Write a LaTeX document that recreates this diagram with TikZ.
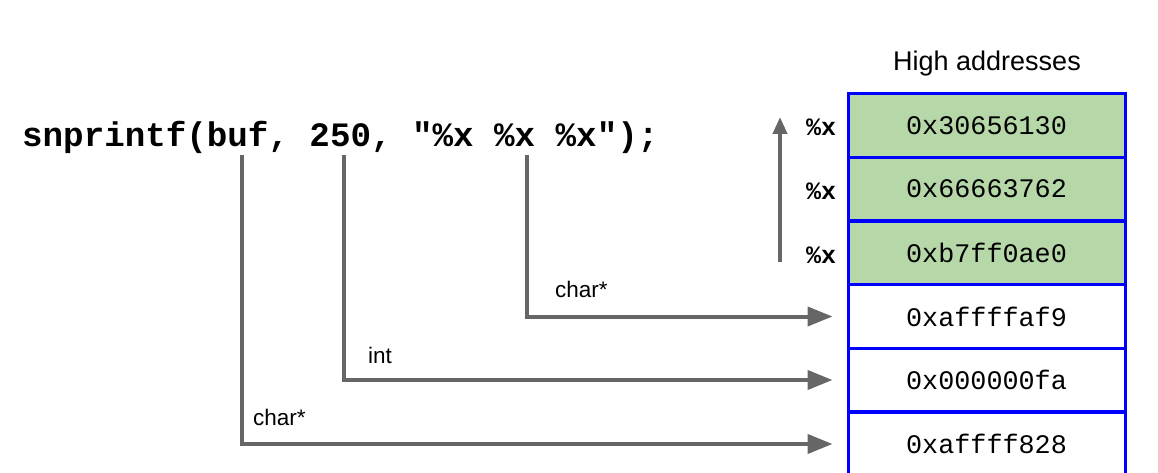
\documentclass[tikz,border=0pt]{standalone}
\usepackage{fontspec}
\setmainfont{Liberation Sans}
\newfontfamily\codefont{Liberation Mono}
\usetikzlibrary{arrows.meta}
\definecolor{cellgreen}{HTML}{B6D7A8}
\definecolor{conngray}{HTML}{666666}
\definecolor{cellblue}{HTML}{0000FF}
\begin{document}
\begin{tikzpicture}[x=1pt,y=-1pt,
  cell/.style={draw=cellblue, line width=3pt, minimum width=277pt, minimum height=63.5pt,
    inner sep=0pt, font=\codefont\fontsize{26.8}{27}\selectfont},
  gcell/.style={cell, fill=cellgreen},
  conn/.style={draw=conngray, line width=4pt, -{Triangle[length=25pt,width=19pt]}, shorten >=14pt},
  upconn/.style={draw=conngray, line width=4pt, -{Triangle[length=17pt,width=14pt]}},
  fmt/.style={font=\codefont\bfseries\fontsize{25}{25}\selectfont, inner sep=0pt},
  typelbl/.style={font=\fontsize{22.5}{23}\selectfont, anchor=base west, inner sep=0pt}]
\useasboundingbox (0,0) rectangle (1158,473);
% code line
\node[anchor=base west, inner sep=0pt, font=\codefont\bfseries\fontsize{34.2}{35}\selectfont] (code) at (22,147) {snprintf(buf, 250, "\%x \%x \%x");};
% stack
\node[anchor=base, inner sep=0pt, font=\fontsize{27}{28}\selectfont] (high) at (987,71) {High addresses};
\node[gcell] (c1) at (986.5,125.5) {0x30656130};
\node[gcell] (c2) at (986.5,189) {0x66663762};
\node[gcell] (c3) at (986.5,253) {0xb7ff0ae0};
\node[cell] (c4) at (986.5,316.5) {0xaffffaf9};
\node[cell] (c5) at (986.5,380) {0x000000fa};
\node[cell] (c6) at (986.5,444) {0xaffff828};
% %x labels
\node[fmt] (f1) at (821,127) {\%x};
\node[fmt] (f2) at (821,191) {\%x};
\node[fmt] (f3) at (821,255) {\%x};
% up arrow
\coordinate (u0) at (780,262);
\coordinate (u1) at (780,117);
\draw[upconn] (u0) -- (u1);
% connectors
\coordinate (a1) at (241.5,155);
\coordinate (a2) at (343.5,155);
\coordinate (a3) at (527,155);
\draw[conn] (a1) |- (c6.west);
\draw[conn] (a2) |- (c5.west);
\draw[conn] (a3) |- (c4.west);
% type labels
\node[typelbl] (t3) at (555,297) {char*};
\node[typelbl] (t2) at (368,363) {int};
\node[typelbl] (t1) at (253,425) {char*};
\end{tikzpicture}
\end{document}
